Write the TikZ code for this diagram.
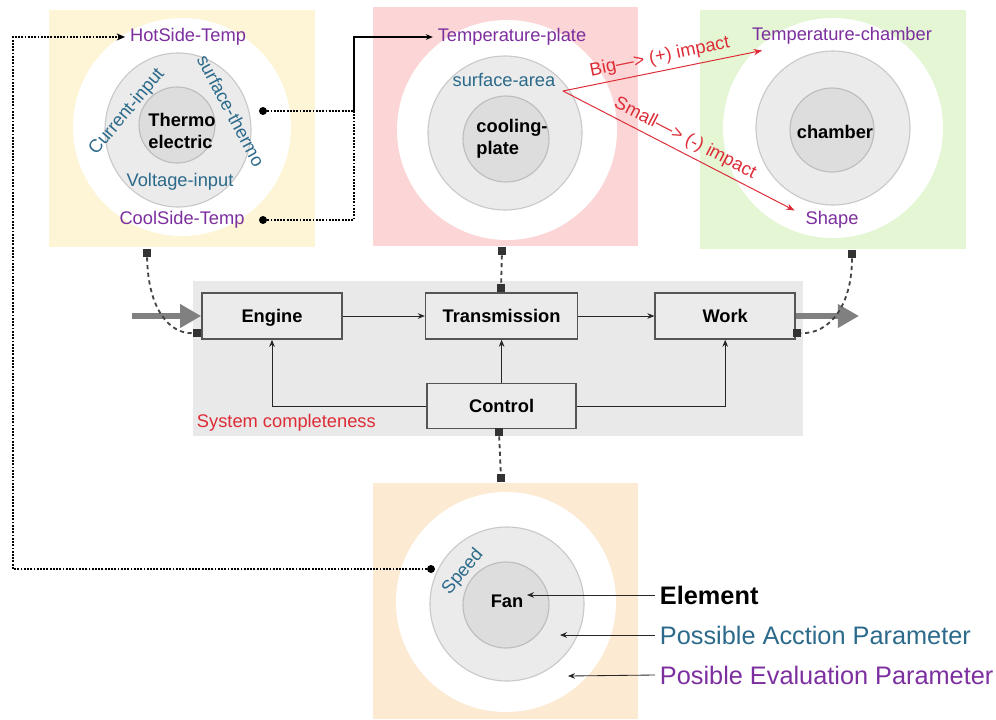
\documentclass[tikz,border=0pt]{standalone}
\usepackage{fontspec}
\setmainfont{Liberation Sans}
\usepackage{xcolor}
\usetikzlibrary{arrows.meta,positioning,calc}

\definecolor{yellowbg}{HTML}{FDF5D5}
\definecolor{pinkbg}{HTML}{FCD6D6}
\definecolor{greenbg}{HTML}{E4F6D4}
\definecolor{orangebg}{HTML}{FCEAD3}
\definecolor{sysbg}{HTML}{E9E9E9}
\definecolor{boxfill}{HTML}{EBEBEB}
\definecolor{boxline}{HTML}{555555}
\definecolor{midfill}{HTML}{EBEBEB}
\definecolor{midline}{HTML}{C9C9C9}
\definecolor{corefill}{HTML}{DDDDDD}
\definecolor{coreline}{HTML}{BDBDBD}
\definecolor{evalpurple}{HTML}{7C2F9E}
\definecolor{actteal}{HTML}{2B6A8A}
\definecolor{impactred}{HTML}{DD2C36}
\definecolor{bigarrow}{HTML}{808080}
\definecolor{dashgray}{HTML}{444444}
\definecolor{markgray}{HTML}{333333}

\begin{document}
\begin{tikzpicture}[
    x=0.025cm, y=-0.025cm,
    every node/.style={font=\fontsize{13}{15.6}\selectfont},
    blockbox/.style={
      rectangle, draw=boxline, line width=1.1pt, fill=boxfill,
      minimum width=3.5cm, minimum height=1.15cm,
      text height=9.3pt, text depth=0pt,
      font=\fontsize{13}{15.6}\selectfont\bfseries
    },
    arr/.style={-{Stealth[length=5pt,width=4pt]}, line width=0.6pt, black!85},
    redarr/.style={-{Stealth[length=6pt,width=4.5pt]}, line width=0.7pt, impactred},
    bigarr/.style={-{Triangle[length=15pt,width=16pt]}, line width=4pt, bigarrow},
    dotconn/.style={densely dotted, line width=1.3pt, black},
    dashconn/.style={dash pattern=on 3pt off 2.5pt, line width=1.3pt, dashgray},
    marker/.style={rectangle, fill=markgray, minimum size=0.2cm, inner sep=0pt},
    dotpin/.style={circle, fill=black, minimum size=0.2cm, inner sep=0pt},
    evalpar/.style={text=evalpurple},
    actpar/.style={text=actteal},
    elem/.style={font=\fontsize{13}{16}\selectfont\bfseries, align=left},
    legend/.style={anchor=west, font=\fontsize{18}{21}\selectfont},
    outerring/.style={fill=white},
    midring/.style={fill=midfill, draw=midline, line width=0.8pt},
    corering/.style={fill=corefill, draw=coreline, line width=0.8pt}
  ]
    \useasboundingbox (0,0) rectangle (996,719);

    % element panels
    \fill[yellowbg] (49,10) rectangle (315,247);
    \fill[pinkbg] (373,7) rectangle (638,246);
    \fill[greenbg] (700,10) rectangle (966,249);
    \fill[orangebg] (373,483) rectangle (638,719);

    \fill[outerring] (182,127) circle[radius=109];
    \path[midring] (178,130) ellipse[x radius=73, y radius=77];
    \path[corering] (177,125) circle[radius=38];

    \fill[outerring] (507,130) circle[radius=110];
    \path[midring] (505,133) circle[radius=77];
    \path[corering] (506,139) circle[radius=43];

    \fill[outerring] (833,128) circle[radius=110];
    \path[midring] (833,128) circle[radius=77];
    \path[corering] (832,130) circle[radius=42];

    \fill[outerring] (506,602) circle[radius=110];
    \path[midring] (507,604) circle[radius=77];
    \path[corering] (506,605) circle[radius=43];

    % thermoelectric
    \node[evalpar] (hotT) at (188,37) {HotSide-Temp};
    \node[evalpar] (coolT) at (182,220) {CoolSide-Temp};
    \node[elem] (thermo) at (182,131) {Thermo\\electric};
    \node[actpar, rotate=50] (curIn) at (127,112) {Current-input};
    \node[actpar, rotate=-62] (surfT) at (231,111) {surface-thermo};
    \node[actpar] (voltIn) at (180,182) {Voltage-input};
    \node[dotpin] (dotST) at (263,111) {};
    \node[dotpin] (dotCT) at (263,220) {};

    % cooling plate
    \node[evalpar] (tplate) at (512,37) {Temperature-plate};
    \node[actpar] (sarea) at (504,80) {surface-area};
    \node[elem] (cplate) at (512,139) {cooling-\\plate};

    % chamber
    \node[evalpar] (tchamb) at (842,36) {Temperature-chamber};
    \node[evalpar] (shape) at (832,220) {Shape};
    \node[elem] (chamb) at (835,132) {chamber};

    % fan
    \node[elem] (fan) at (507,601) {Fan};
    \node[actpar, rotate=50] (speed) at (463,572) {Speed};
    \node[dotpin] (dotSp) at (431,569) {};

    % system block
    \fill[sysbg] (193,281) rectangle (803,436);
    \node[blockbox] (engine) at (272,316) {Engine};
    \node[blockbox, minimum width=3.8cm, right=2.05cm of engine] (trans) {Transmission};
    \node[blockbox, right=1.9cm of trans] (work) {Work};
    \node[blockbox, minimum width=3.725cm, minimum height=1.125cm, below=1.075cm of trans] (control) {Control};
    \node[anchor=west, text=impactred] (sysLbl) at (192,423) {System completeness};

    \draw[arr] (engine) -- (trans);
    \draw[arr] (trans) -- (work);
    \draw[arr] (control.north -| trans.south) -- (trans.south);
    \draw[arr] (control.west) -| (engine.south);
    \draw[arr] (control.east) -| (work.south);

    \coordinate (feedIn) at (132,316);
    \coordinate (feedOut) at (859,316);
    \draw[bigarr] (feedIn) -- (engine.west);
    \draw[bigarr] (work.east) -- (feedOut);

    % panel links
    \node[marker] (mkYel) at (147,253) {};
    \node[marker] (mkEng) at (197,333) {};
    \draw[dashconn] (mkYel) .. controls (148,310) and (170,334) .. (mkEng);
    \node[marker] (mkPink) at (502,251) {};
    \node[marker] (mkTrans) at (501,288) {};
    \draw[dashconn] (mkPink) -- (mkTrans);
    \node[marker] (mkGreen) at (852,254) {};
    \node[marker] (mkWork) at (797,333) {};
    \draw[dashconn] (mkGreen) .. controls (852,305) and (830,334) .. (mkWork);
    \node[marker] (mkCtrl) at (499,432) {};
    \node[marker] (mkFan) at (501,478) {};
    \draw[dashconn] (mkCtrl) -- (mkFan);

    % parameter links
    \coordinate (turnA) at (354,111);
    \draw[dotconn] (dotST) -- (turnA);
    \draw[dotconn] (dotCT) -| (turnA);
    \draw[arr, line width=1pt, black] (turnA) |- (tplate.west);
    \coordinate (turnB) at (13,37);
    \draw[dotconn, -{Stealth[length=6pt,width=5pt]}] (dotSp) -| (turnB) -- (hotT.west);

    \coordinate (split) at (563,91);
    \draw[redarr] (split) -- ($(tchamb.south west)+(15,1)$)
      node[midway, sloped, above, text=impactred] (bigLbl) {Big—> (+) impact};
    \draw[redarr] (split) -- ($(shape.north west)+(-6,4)$)
      node[midway, sloped, above, text=impactred] (smallLbl) {Small—> (-) impact};

    % legend
    \node[legend, font=\fontsize{18}{21}\selectfont\bfseries] (lgElem) at (655,595) {Element};
    \node[legend, actpar] (lgAct) at (655,635) {Possible Acction Parameter};
    \node[legend, evalpar] (lgEval) at (655,675) {Posible Evaluation Parameter};
    \coordinate (tipElem) at (527,595);
    \coordinate (tipAct) at (560,635);
    \coordinate (tipEval) at (568,676);
    \draw[arr] (lgElem.west) -- (tipElem);
    \draw[arr] (lgAct.west) -- (tipAct);
    \draw[arr] (lgEval.west) -- (tipEval);
  \end{tikzpicture}
\end{document}
